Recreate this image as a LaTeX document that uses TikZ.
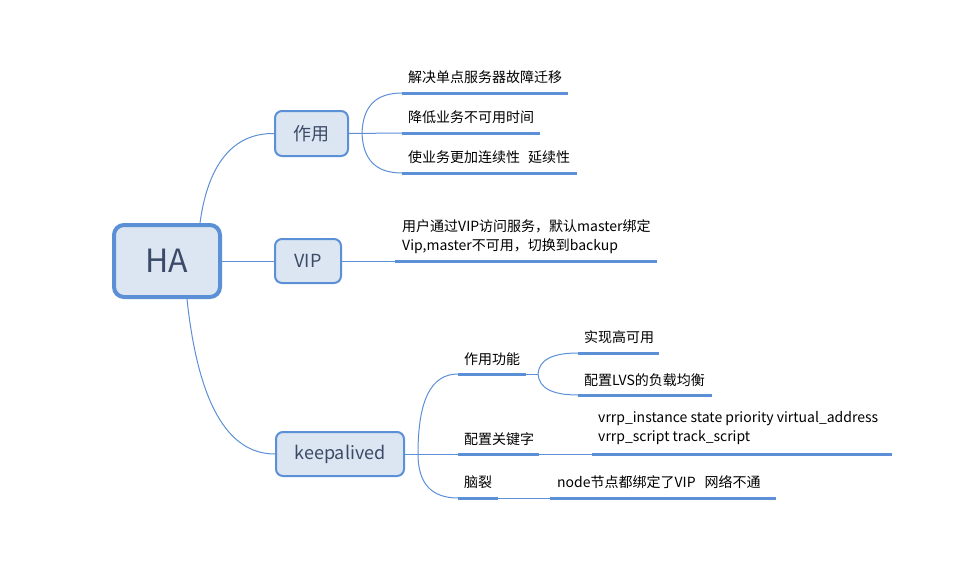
\documentclass[tikz,border=0pt]{standalone}
\usepackage{fontspec}
\setmainfont{Noto Sans CJK SC}
\usetikzlibrary{positioning}

\definecolor{habline}{HTML}{5B8FD6}
\definecolor{hafill}{HTML}{DCE6F2}
\definecolor{hatext}{HTML}{3B4A66}

\tikzset{
    topic/.style={draw=habline,fill=hafill,line width=2pt,rounded corners=7pt,text=hatext,
        inner sep=0pt,font=\fontsize{18}{22}\selectfont},
    roottopic/.style={topic,line width=4pt,rounded corners=10pt,font=\fontsize{32}{38}\selectfont},
    leaf/.style={anchor=west,inner sep=0pt,align=left,font=\fontsize{14}{19}\selectfont},
    uline/.style={draw=habline,line width=3pt},
    link/.style={draw=habline,line width=1pt},
}

\begin{document}
\begin{tikzpicture}[x=1pt,y=-1pt]
    \useasboundingbox (0,0) rectangle (956,563);
    \node[roottopic,minimum width=106pt,minimum height=72pt] (ha) at (167,261) {HA};
    \node[topic,minimum width=73pt,minimum height=45pt] (zy) at (311.5,133.5) {作用};
    \node[topic,minimum width=66pt,minimum height=44pt] (vip) at (308,261) {VIP};
    \node[topic,minimum width=128pt,minimum height=44pt] (kp) at (340,454) {keepalived};

    \draw[link] ([xshift=33pt]ha.north) .. controls (208,164) and (233,133) .. (zy.west);
    \draw[link] (ha.east) -- (vip.west);
    \draw[link] ([xshift=20pt]ha.south) .. controls (198,402) and (227,454) .. (kp.west);

    % 作用
    \coordinate (zyfork) at (362,133);
    \coordinate (zya) at (402,93);   \coordinate (zyae) at (568,93);
    \coordinate (zyb) at (402,133);  \coordinate (zybe) at (540,133);
    \coordinate (zyc) at (402,173);  \coordinate (zyce) at (577,173);
    \node[leaf] (zyat) at (408,77) {解决单点服务器故障迁移};
    \node[leaf] (zybt) at (408,117) {降低业务不可用时间};
    \node[leaf] (zyct) at (408,157) {使业务更加连续性\hspace{8pt}延续性};
    \draw[link] (zy.east) -- (zyb);
    \draw[link] (zyfork) .. controls (363,106) and (376,93) .. (zya);
    \draw[link] (zyfork) .. controls (363,160) and (376,173) .. (zyc);
    \draw[uline] (zya) -- (zyae);
    \draw[uline] (zyb) -- (zybe);
    \draw[uline] (zyc) -- (zyce);

    % VIP
    \coordinate (vipa) at (395,261); \coordinate (vipae) at (657,261);
    \node[leaf] (vipt) at (402,236.5) {用户通过VIP访问服务，默认master绑定\\Vip,master不可用，切换到backup};
    \draw[link] (vip.east) -- (vipa);
    \draw[uline] (vipa) -- (vipae);

    % keepalived
    \coordinate (kpfork) at (418,454);
    \coordinate (gn) at (458,374);   \coordinate (gne) at (526,374);
    \coordinate (gj) at (458,454);   \coordinate (gje) at (539,454);
    \coordinate (nl) at (458,498);   \coordinate (nle) at (498,498);
    \node[leaf] (gnt) at (464,359) {作用功能};
    \node[leaf] (gjt) at (464,439) {配置关键字};
    \node[leaf] (nlt) at (464,482) {脑裂};
    \draw[link] (kp.east) -- (gj);
    \draw[link] (kpfork) .. controls (418,400) and (431,374) .. (gn);
    \draw[link] (kpfork) .. controls (418,483) and (431,498) .. (nl);
    \draw[uline] (gn) -- (gne);
    \draw[uline] (gj) -- (gje);
    \draw[uline] (nl) -- (nle);

    \coordinate (gnfork) at (538,374);
    \coordinate (gna) at (578,353);  \coordinate (gnae) at (659,353);
    \coordinate (gnb) at (578,395);  \coordinate (gnbe) at (712,395);
    \node[leaf] (gnat) at (584,337) {实现高可用};
    \node[leaf] (gnbt) at (584,380) {配置LVS的负载均衡};
    \draw[link] (gne) -- (gnfork);
    \draw[link] (gnfork) .. controls (539,360) and (552,353) .. (gna);
    \draw[link] (gnfork) .. controls (539,388) and (552,395) .. (gnb);
    \draw[uline] (gna) -- (gnae);
    \draw[uline] (gnb) -- (gnbe);

    \coordinate (gja) at (592,454);  \coordinate (gjae) at (892,454);
    \node[leaf] (gjat) at (598,428.5) {vrrp\_instance state priority virtual\_address\\vrrp\_script track\_script};
    \draw[link] (gje) -- (gja);
    \draw[uline] (gja) -- (gjae);

    \coordinate (nla) at (550,498);  \coordinate (nlae) at (776,498);
    \node[leaf] (nlat) at (557,482) {node节点都绑定了VIP\hspace{9pt}网络不通};
    \draw[link] (nle) -- (nla);
    \draw[uline] (nla) -- (nlae);
\end{tikzpicture}
\end{document}
